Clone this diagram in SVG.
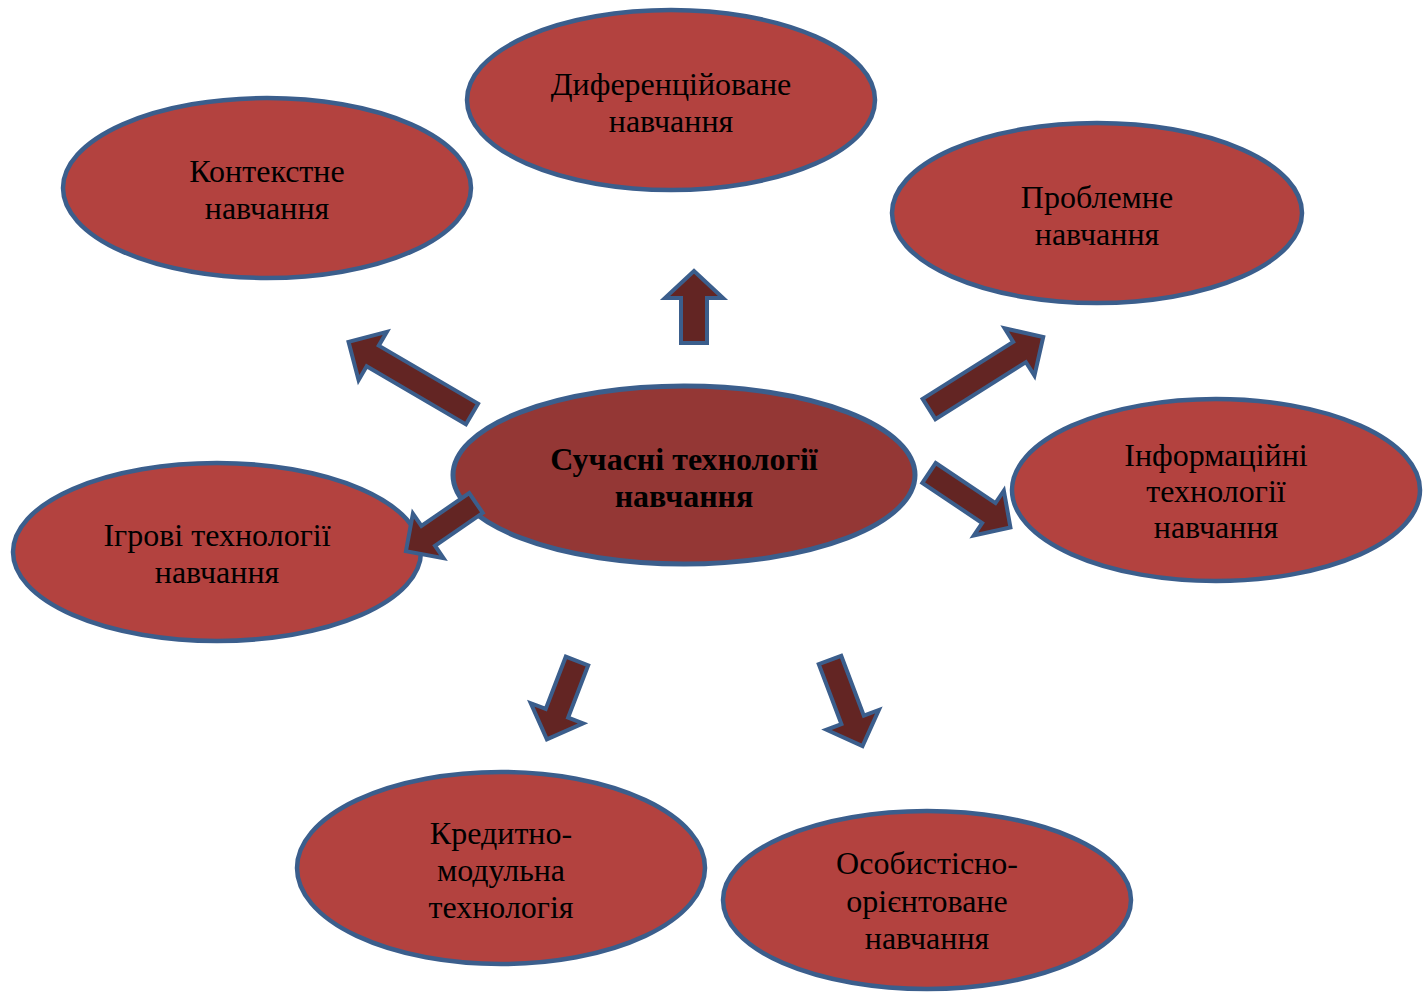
<svg xmlns="http://www.w3.org/2000/svg" width="1424" height="992" viewBox="0 0 1424 992">
<style>
.n{fill:#b3423f;stroke:#3b5e8c;stroke-width:4.5}
.c{fill:#943735;stroke:#3b5e8c;stroke-width:5}
.t{font-family:"Liberation Serif","Times New Roman",serif;font-size:32px;fill:#000;text-anchor:middle}
.b{font-weight:bold}
.a{fill:#632523;stroke:#3b5e8c;stroke-width:4;stroke-linejoin:miter}
</style>
<rect width="1424" height="992" fill="#fff"/>
<g id="node-kontekstne"><ellipse class="n" cx="267" cy="188" rx="204" ry="90"/><text class="t" x="267" y="182">Контекстне</text><text class="t" x="267" y="219">навчання</text></g>
<g id="node-dyferentsiiovane"><ellipse class="n" cx="671" cy="100" rx="204" ry="90"/><text class="t" x="671" y="95">Диференційоване</text><text class="t" x="671" y="132">навчання</text></g>
<g id="node-problemne"><ellipse class="n" cx="1097" cy="213" rx="205" ry="90"/><text class="t" x="1097" y="208">Проблемне</text><text class="t" x="1097" y="245">навчання</text></g>
<g id="node-informatsiini"><ellipse class="n" cx="1216" cy="490" rx="204" ry="91"/><text class="t" x="1216" y="466">Інформаційні</text><text class="t" x="1216" y="502">технології</text><text class="t" x="1216" y="538">навчання</text></g>
<g id="node-ihrovi"><ellipse class="n" cx="217" cy="552" rx="204" ry="89"/><text class="t" x="217" y="546">Ігрові технології</text><text class="t" x="217" y="583">навчання</text></g>
<g id="node-kredytno"><ellipse class="n" cx="501" cy="868" rx="204" ry="96"/><text class="t" x="501" y="844">Кредитно-</text><text class="t" x="501" y="881">модульна</text><text class="t" x="501" y="918">технологія</text></g>
<g id="node-osobystisno"><ellipse class="n" cx="927" cy="900" rx="204" ry="89"/><text class="t" x="927" y="874">Особистісно-</text><text class="t" x="927" y="912">орієнтоване</text><text class="t" x="927" y="949">навчання</text></g>
<g id="node-center"><ellipse class="c" cx="684" cy="475" rx="231" ry="89"/><text class="t b" x="684" y="470">Сучасні технології</text><text class="t b" x="684" y="507">навчання</text></g>
<g id="connectors">
<polygon class="a" transform="translate(472,414) rotate(210.3)" points="0,-12 115,-12 115,-28 143,0 115,28 115,12 0,12"/>
<polygon class="a" transform="translate(694,343) rotate(-90)" points="0,-13 45,-13 45,-29 72,0 45,29 45,13 0,13"/>
<polygon class="a" transform="translate(929,409) rotate(-32.2)" points="0,-12 107,-12 107,-28 135,0 107,28 107,12 0,12"/>
<polygon class="a" transform="translate(929,473) rotate(33.8)" points="0,-12 72,-12 72,-27 98,0 72,27 72,12 0,12"/>
<polygon class="a" transform="translate(476,503) rotate(145.5)" points="0,-12 58,-12 58,-27 85,0 58,27 58,12 0,12"/>
<polygon class="a" transform="translate(577,661) rotate(111)" points="0,-12 56,-12 56,-28 84,0 56,28 56,12 0,12"/>
<polygon class="a" transform="translate(830,660) rotate(69.3)" points="0,-12 64,-12 64,-28 92,0 64,28 64,12 0,12"/>
</g>
</svg>
